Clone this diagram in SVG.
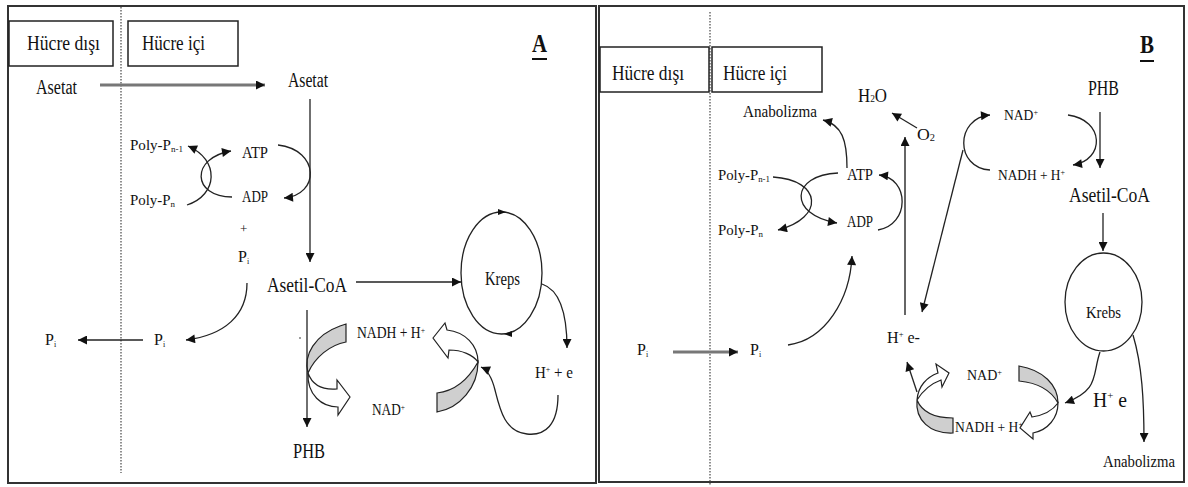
<svg xmlns="http://www.w3.org/2000/svg" width="1188" height="487" viewBox="0 0 1188 487">
<style>
text{font-family:"Liberation Serif","Times New Roman",serif;fill:#111;}
.ln{fill:none;stroke:#222;stroke-width:1.3;}
.gl{fill:none;stroke:#777;stroke-width:3;}
.gv{fill:none;stroke:#666;stroke-width:2;}
.bd{fill:none;stroke:#333;stroke-width:2;}
.dot{stroke:#555;stroke-width:1.3;stroke-dasharray:1.5,1.5;}
.box{fill:#fff;stroke:#222;stroke-width:1.5;}
.rg{fill:#cfcfcf;stroke:#222;stroke-width:1.2;}
.rw{fill:#fff;stroke:#222;stroke-width:1.2;}
</style>
<defs>
<marker id="ah" viewBox="0 0 10 10" refX="10" refY="5" markerWidth="10" markerHeight="9" markerUnits="userSpaceOnUse" orient="auto">
<path d="M0,0 L10,5 L0,10 Z" fill="#111"/>
</marker>
</defs>
<rect width="1188" height="487" fill="#fff"/>

<g id="frames">
<rect class="bd" x="8" y="6" width="588" height="477"/>
<rect class="bd" x="599" y="6" width="585" height="476"/>
<line class="dot" x1="121" y1="7" x2="121" y2="473"/>
<line class="dot" x1="710" y1="12" x2="710" y2="486"/>
</g>

<g id="panelA">
<g id="a-outside"><rect class="box" x="9" y="21" width="104" height="45"/><text x="27" y="50" font-size="22" textLength="73" lengthAdjust="spacingAndGlyphs">Hücre dışı</text></g>
<g id="a-inside"><rect class="box" x="128" y="21" width="110" height="45"/><text x="142" y="50" font-size="22" textLength="63" lengthAdjust="spacingAndGlyphs">Hücre içi</text></g>
<g id="a-label"><text x="532" y="52" font-size="26" font-weight="bold" textLength="15" lengthAdjust="spacingAndGlyphs">A</text><line x1="532" y1="59" x2="547" y2="59" stroke="#111" stroke-width="2"/></g>
<g id="a-asetat-out"><text x="36" y="94" font-size="20" textLength="41" lengthAdjust="spacingAndGlyphs">Asetat</text></g>
<g id="a-asetat-in"><text x="288" y="87" font-size="20" textLength="40" lengthAdjust="spacingAndGlyphs">Asetat</text></g>
<g id="a-polyn1"><text x="130" y="150" font-size="15" textLength="53" lengthAdjust="spacingAndGlyphs">Poly-P<tspan font-size="9" dy="2">n-1</tspan></text></g>
<g id="a-polyn"><text x="130" y="205" font-size="15" textLength="45" lengthAdjust="spacingAndGlyphs">Poly-P<tspan font-size="9" dy="2">n</tspan></text></g>
<g id="a-atp"><text x="242" y="158" font-size="17" textLength="26" lengthAdjust="spacingAndGlyphs">ATP</text></g>
<g id="a-adp"><text x="242" y="202" font-size="17" textLength="26" lengthAdjust="spacingAndGlyphs">ADP</text></g>
<g id="a-plus"><text x="240" y="233" font-size="13">+</text></g>
<g id="a-pi1"><text x="238" y="262" font-size="16">P<tspan font-size="8" dy="2">i</tspan></text></g>
<g id="a-pi2"><text x="154" y="345" font-size="16">P<tspan font-size="8" dy="2">i</tspan></text></g>
<g id="a-pi3"><text x="45" y="345" font-size="16">P<tspan font-size="8" dy="2">i</tspan></text></g>
<g id="a-acoa"><text x="267" y="292" font-size="22" textLength="80" lengthAdjust="spacingAndGlyphs">Asetil-CoA</text></g>
<g id="a-kreps"><ellipse cx="501.5" cy="273" rx="40.5" ry="61" fill="none" stroke="#222" stroke-width="1.3"/><polygon points="498,209 506,212 498,215" fill="#111"/><polygon points="512,331 504,334 512,337" fill="#111"/><text x="485" y="285" font-size="18" textLength="35" lengthAdjust="spacingAndGlyphs">Kreps</text></g>
<g id="a-he"><text x="535" y="378" font-size="17" textLength="38" lengthAdjust="spacingAndGlyphs">H<tspan font-size="9" dy="-6">+</tspan><tspan dy="6"> + e</tspan></text></g>
<g id="a-nadh"><text x="357" y="338" font-size="16" textLength="68" lengthAdjust="spacingAndGlyphs">NADH + H<tspan font-size="9" dy="-5">+</tspan></text></g>
<g id="a-nad"><text x="372" y="415" font-size="16" textLength="33" lengthAdjust="spacingAndGlyphs">NAD<tspan font-size="9" dy="-5">+</tspan></text></g>
<g id="a-phb"><text x="293" y="458" font-size="22" textLength="32" lengthAdjust="spacingAndGlyphs">PHB</text></g>
<g id="a-ribbon1"><path class="rg" d="M340,326 L346,324 L346,342 C330,345 315,357 308,373 C303,355 315,335 340,326 Z"/><path class="rw" d="M308,373 C313,387 325,390 337,389 L337,380 L350,397 L338,415 L338,407 C322,407 307,395 308,373 Z"/></g>
<g id="a-ribbon2"><path class="rw" d="M433,338 L445,323 L447,330 C465,332 478,345 478,362 C473,355 462,350 449,350 L448,358 Z"/><path class="rg" d="M478,362 C478,387 460,408 437,412 L437,393 C455,391 468,380 478,362 Z"/></g>
</g>

<g id="panelB">
<g id="b-outside"><rect class="box" x="600" y="47" width="109" height="45"/><text x="612" y="80" font-size="22" textLength="72" lengthAdjust="spacingAndGlyphs">Hücre dışı</text></g>
<g id="b-inside"><rect class="box" x="712" y="47" width="110" height="45"/><text x="723" y="80" font-size="22" textLength="64" lengthAdjust="spacingAndGlyphs">Hücre içi</text></g>
<g id="b-label"><text x="1140" y="53" font-size="26" font-weight="bold" textLength="14" lengthAdjust="spacingAndGlyphs">B</text><line x1="1140" y1="61" x2="1154" y2="61" stroke="#111" stroke-width="2"/></g>
<g id="b-h2o"><text x="858" y="102" font-size="18" textLength="29" lengthAdjust="spacingAndGlyphs">H<tspan font-size="10">2</tspan>O</text></g>
<g id="b-anab1"><text x="743" y="117" font-size="16" textLength="74" lengthAdjust="spacingAndGlyphs">Anabolizma</text></g>
<g id="b-o2"><text x="917" y="140" font-size="17" textLength="18" lengthAdjust="spacingAndGlyphs">O<tspan font-size="10" dy="1">2</tspan></text></g>
<g id="b-atp"><text x="847" y="180" font-size="17" textLength="26" lengthAdjust="spacingAndGlyphs">ATP</text></g>
<g id="b-adp"><text x="847" y="227" font-size="17" textLength="26" lengthAdjust="spacingAndGlyphs">ADP</text></g>
<g id="b-polyn1"><text x="718" y="180" font-size="15" textLength="52" lengthAdjust="spacingAndGlyphs">Poly-P<tspan font-size="9" dy="2">n-1</tspan></text></g>
<g id="b-polyn"><text x="718" y="235" font-size="15" textLength="45" lengthAdjust="spacingAndGlyphs">Poly-P<tspan font-size="9" dy="2">n</tspan></text></g>
<g id="b-nad1"><text x="1004" y="120" font-size="15" textLength="34" lengthAdjust="spacingAndGlyphs">NAD<tspan font-size="9" dy="-5">+</tspan></text></g>
<g id="b-nadh1"><text x="998" y="180" font-size="15" textLength="67" lengthAdjust="spacingAndGlyphs">NADH + H<tspan font-size="9" dy="-5">+</tspan></text></g>
<g id="b-phb"><text x="1088" y="95" font-size="20" textLength="31" lengthAdjust="spacingAndGlyphs">PHB</text></g>
<g id="b-acoa"><text x="1069" y="202" font-size="22" textLength="81" lengthAdjust="spacingAndGlyphs">Asetil-CoA</text></g>
<g id="b-krebs"><ellipse cx="1103.5" cy="302" rx="38.5" ry="49" fill="none" stroke="#222" stroke-width="1.3"/><text x="1086" y="318" font-size="17" textLength="35" lengthAdjust="spacingAndGlyphs">Krebs</text></g>
<g id="b-he"><text x="1093" y="407" font-size="20" textLength="34" lengthAdjust="spacingAndGlyphs">H<tspan font-size="11" dy="-8">+</tspan><tspan dy="8"> e</tspan></text></g>
<g id="b-anab2"><text x="1103" y="467" font-size="16" textLength="72" lengthAdjust="spacingAndGlyphs">Anabolizma</text></g>
<g id="b-he2"><text x="887" y="343" font-size="17" textLength="33" lengthAdjust="spacingAndGlyphs">H<tspan font-size="9" dy="-6">+</tspan><tspan dy="6"> e-</tspan></text></g>
<g id="b-nad2"><text x="967" y="380" font-size="15" textLength="35" lengthAdjust="spacingAndGlyphs">NAD<tspan font-size="9" dy="-5">+</tspan></text></g>
<g id="b-nadh2"><text x="955" y="432" font-size="15" textLength="68" lengthAdjust="spacingAndGlyphs">NADH + H<tspan font-size="9" dy="-5">+</tspan></text></g>
<g id="b-pi1"><text x="637" y="355" font-size="16">P<tspan font-size="8" dy="2">i</tspan></text></g>
<g id="b-pi2"><text x="750" y="355" font-size="16">P<tspan font-size="8" dy="2">i</tspan></text></g>
<g id="b-ribbon1"><path class="rg" d="M1019,366 C1043,370 1058,385 1058,403 C1052,392 1040,383 1019,381 Z"/><path class="rw" d="M1058,403 C1058,418 1048,430 1033,433 L1033,439 L1020,428 L1030,412 L1032,417 C1045,415 1053,410 1058,403 Z"/></g>
<g id="b-ribbon2"><path class="rg" d="M953,418 L953,433 C930,434 915,420 917,400 C922,412 935,418 953,418 Z"/><path class="rw" d="M917,400 C918,386 927,377 938,373 L936,364 L949,373 L942,387 L941,380 C930,384 922,392 917,400 Z"/></g>
</g>

<g id="connectors">
<line class="gl" x1="100" y1="85" x2="265" y2="85" marker-end="url(#ah)"/>
<line class="ln" x1="310" y1="99" x2="310" y2="262" marker-end="url(#ah)"/>
<path class="ln" d="M187,205 C218,195 220,160 188,146" marker-end="url(#ah)"/>
<path class="ln" d="M232,197 C192,197 190,158 231,151" marker-end="url(#ah)"/>
<path class="ln" d="M278,145 C320,150 320,195 284,198" marker-end="url(#ah)"/>
<path class="ln" d="M247,283 C247,315 225,335 186,340" marker-end="url(#ah)"/>
<line class="ln" x1="143" y1="340" x2="78" y2="340" marker-end="url(#ah)"/>
<line class="ln" x1="356" y1="282" x2="461" y2="282" marker-end="url(#ah)"/>
<path class="ln" d="M542,284 C560,290 567,315 567,348" marker-end="url(#ah)"/>
<path class="ln" d="M558,395 C558,425 545,436 527,434 C505,432 500,410 495,390 C492,378 488,370 481,367" marker-end="url(#ah)"/>
<line class="ln" x1="307" y1="310" x2="307" y2="427" marker-end="url(#ah)"/>
<circle cx="300" cy="338" r="0.8" fill="#222"/>

<path class="ln" d="M847,168 C847,140 842,125 823,120" marker-end="url(#ah)"/>
<path class="ln" d="M773,177 C822,180 825,218 778,230" marker-end="url(#ah)"/>
<path class="ln" d="M838,173 C790,175 788,215 837,223" marker-end="url(#ah)"/>
<path class="ln" d="M878,230 C910,225 910,178 879,175" marker-end="url(#ah)"/>
<line class="gv" x1="905" y1="315" x2="905" y2="137" marker-end="url(#ah)"/>
<line class="ln" x1="917" y1="128" x2="892" y2="113" marker-end="url(#ah)"/>
<line class="ln" x1="963" y1="150" x2="922" y2="312" marker-end="url(#ah)"/>
<path class="ln" d="M990,170 C955,168 955,118 990,115" marker-end="url(#ah)"/>
<path class="ln" d="M1068,115 C1105,120 1105,160 1073,165" marker-end="url(#ah)"/>
<line class="ln" x1="1100" y1="112" x2="1100" y2="168" marker-end="url(#ah)"/>
<line class="ln" x1="1103" y1="213" x2="1103" y2="251" marker-end="url(#ah)"/>
<path class="ln" d="M1100,352 C1092,375 1100,390 1065,403" marker-end="url(#ah)"/>
<path class="ln" d="M1133,335 C1142,365 1144,400 1144,442" marker-end="url(#ah)"/>
<line class="ln" x1="917" y1="392" x2="907" y2="362" marker-end="url(#ah)"/>
<line class="gl" x1="673" y1="352" x2="738" y2="352" marker-end="url(#ah)"/>
<path class="ln" d="M788,345 C825,340 850,300 852,256" marker-end="url(#ah)"/>
</g>
</svg>
